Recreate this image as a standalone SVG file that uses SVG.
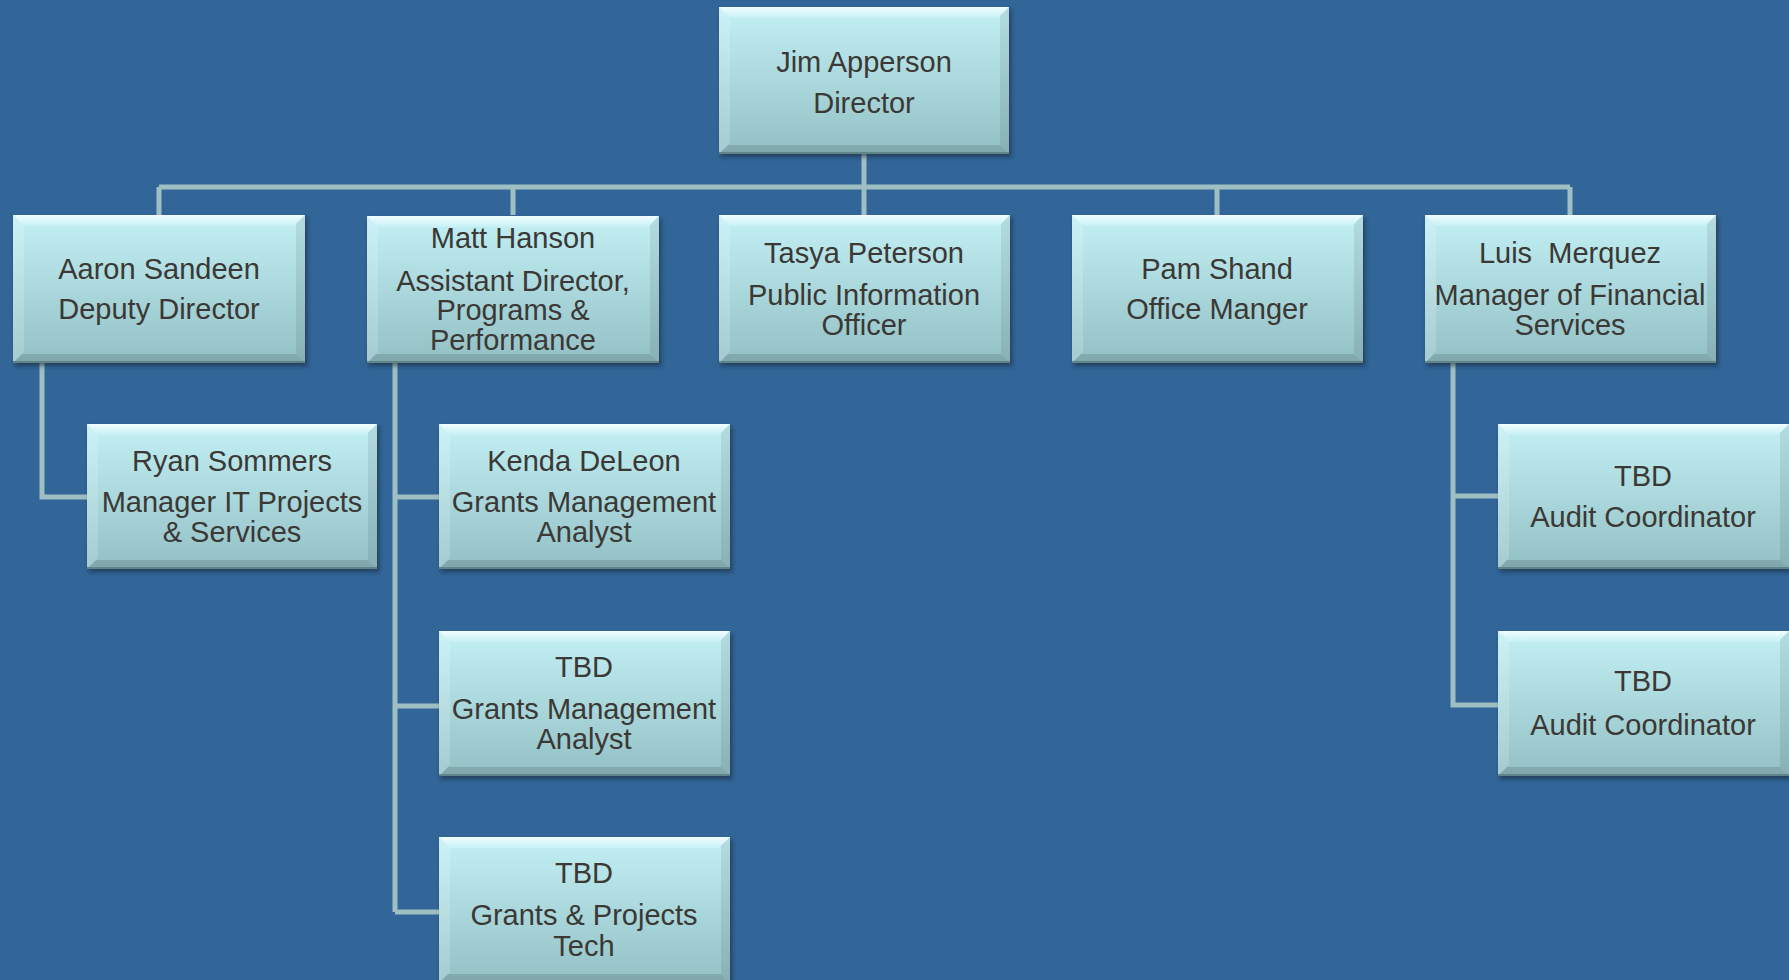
<svg xmlns="http://www.w3.org/2000/svg" xmlns:xlink="http://www.w3.org/1999/xlink" width="1789" height="980" viewBox="0 0 1789 980">
<style>
.t{font-family:"Liberation Sans",Arial,sans-serif;font-size:29px;fill:#3b3835;text-anchor:middle}
.c{stroke:#a0bfc3;stroke-width:5;fill:none}
</style>
<defs>
<linearGradient id="body" x1="0" y1="0" x2="0" y2="1">
<stop offset="0" stop-color="#c2f0f4"/>
<stop offset="1" stop-color="#92c0c4"/>
</linearGradient>
<linearGradient id="topb" x1="0" y1="0" x2="0" y2="1">
<stop offset="0" stop-color="#f2fdfe"/>
<stop offset="1" stop-color="#c6f1f5"/>
</linearGradient>
<filter id="sh" x="-5%" y="-5%" width="112%" height="115%">
<feDropShadow dx="2" dy="3" stdDeviation="2" flood-color="#0a1a2a" flood-opacity="0.55"/>
</filter>
<symbol id="box" viewBox="0 0 291 146" preserveAspectRatio="none">
<rect x="0" y="0" width="291" height="146" fill="url(#body)"/>
<polygon points="0,0 291,0 280,11 11,11" fill="url(#topb)"/>
<polygon points="0,0 11,11 11,135 0,146" fill="#ffffff" fill-opacity="0.18"/>
<polygon points="291,0 291,146 282,137 282,9" fill="#000000" fill-opacity="0.08"/>
<polygon points="0,146 9,137 282,137 291,146" fill="#000000" fill-opacity="0.12"/>
<rect x="0" y="144" width="291" height="2" fill="#5f8588"/>
</symbol>
</defs>
<rect x="0" y="0" width="1789" height="980" fill="#326598"/>

<g id="connectors">
<path class="c" d="M864,154 V187 M159,187 H1570 M159,187 V215 M513,187 V215 M864,187 V215 M1217,187 V215 M1570,187 V215"/>
<path class="c" d="M42,363 V497 H87"/>
<path class="c" d="M395,363 V912 M395,497 H439 M395,706 H439 M395,912 H439"/>
<path class="c" d="M1453,363 V705 H1498 M1453,496 H1498"/>
</g>

<g id="jim">
<use xlink:href="#box" href="#box" x="719" y="7" width="290" height="147" filter="url(#sh)"/>
<text class="t" x="864" y="72">Jim Apperson</text>
<text class="t" x="864" y="113">Director</text>
</g>

<g id="aaron">
<use xlink:href="#box" href="#box" x="13" y="215" width="292" height="148" filter="url(#sh)"/>
<text class="t" x="159" y="279">Aaron Sandeen</text>
<text class="t" x="159" y="319">Deputy Director</text>
</g>

<g id="matt">
<use xlink:href="#box" href="#box" x="367" y="216" width="292" height="147" filter="url(#sh)"/>
<text class="t" x="513" y="248">Matt Hanson</text>
<text class="t" x="513" y="291">Assistant Director,</text>
<text class="t" x="513" y="320">Programs &amp;</text>
<text class="t" x="513" y="350">Performance</text>
</g>

<g id="tasya">
<use xlink:href="#box" href="#box" x="719" y="215" width="291" height="148" filter="url(#sh)"/>
<text class="t" x="864" y="263">Tasya Peterson</text>
<text class="t" x="864" y="305">Public Information</text>
<text class="t" x="864" y="335">Officer</text>
</g>

<g id="pam">
<use xlink:href="#box" href="#box" x="1072" y="215" width="291" height="148" filter="url(#sh)"/>
<text class="t" x="1217" y="279">Pam Shand</text>
<text class="t" x="1217" y="319">Office Manger</text>
</g>

<g id="luis">
<use xlink:href="#box" href="#box" x="1425" y="215" width="291" height="148" filter="url(#sh)"/>
<text class="t" x="1570" y="263" xml:space="preserve">Luis  Merquez</text>
<text class="t" x="1570" y="305">Manager of Financial</text>
<text class="t" x="1570" y="335">Services</text>
</g>

<g id="ryan">
<use xlink:href="#box" href="#box" x="87" y="424" width="290" height="145" filter="url(#sh)"/>
<text class="t" x="232" y="471">Ryan Sommers</text>
<text class="t" x="232" y="512">Manager IT Projects</text>
<text class="t" x="232" y="542">&amp; Services</text>
</g>

<g id="kenda">
<use xlink:href="#box" href="#box" x="439" y="424" width="291" height="145" filter="url(#sh)"/>
<text class="t" x="584" y="471">Kenda DeLeon</text>
<text class="t" x="584" y="512">Grants Management</text>
<text class="t" x="584" y="542">Analyst</text>
</g>

<g id="tbd-gma">
<use xlink:href="#box" href="#box" x="439" y="631" width="291" height="145" filter="url(#sh)"/>
<text class="t" x="584" y="677">TBD</text>
<text class="t" x="584" y="719">Grants Management</text>
<text class="t" x="584" y="749">Analyst</text>
</g>

<g id="tbd-tech">
<use xlink:href="#box" href="#box" x="439" y="837" width="291" height="146" filter="url(#sh)"/>
<text class="t" x="584" y="883">TBD</text>
<text class="t" x="584" y="925">Grants &amp; Projects</text>
<text class="t" x="584" y="956">Tech</text>
</g>

<g id="audit1">
<use xlink:href="#box" href="#box" x="1498" y="424" width="291" height="145" filter="url(#sh)"/>
<text class="t" x="1643" y="486">TBD</text>
<text class="t" x="1643" y="527">Audit Coordinator</text>
</g>

<g id="audit2">
<use xlink:href="#box" href="#box" x="1498" y="631" width="291" height="145" filter="url(#sh)"/>
<text class="t" x="1643" y="691">TBD</text>
<text class="t" x="1643" y="735">Audit Coordinator</text>
</g>
</svg>
